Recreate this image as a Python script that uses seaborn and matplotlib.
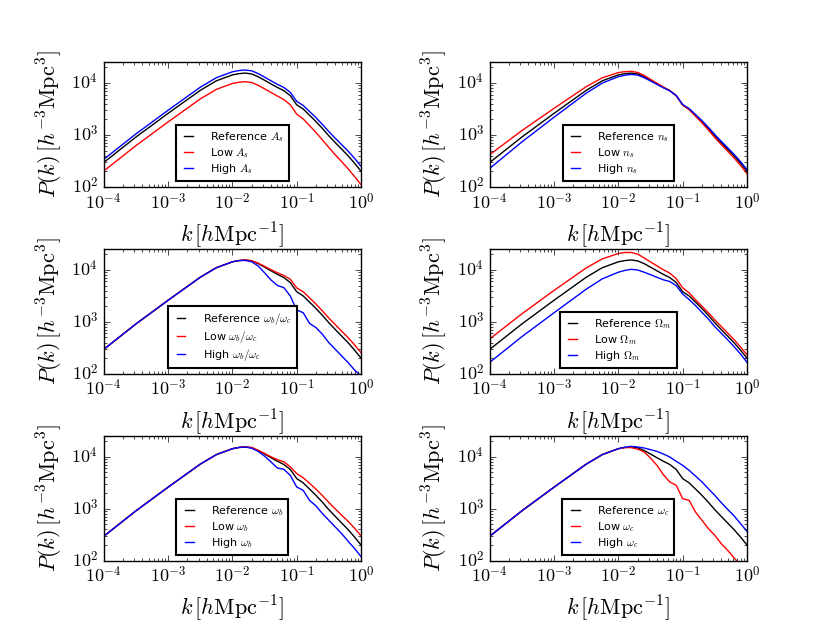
import math
import matplotlib
matplotlib.use("Agg")
import matplotlib.pyplot as plt
import matplotlib.ticker as mticker
import seaborn as sns
import pandas as pd

# wavenumbers k [h/Mpc]
k = [1e-4, 3.16e-4, 1e-3, 3.16e-3, 5.62e-3, 1e-2, 1.26e-2, 1.58e-2, 2e-2, 2.51e-2,
     3.16e-2, 3.98e-2, 5.01e-2, 6.31e-2, 7.94e-2, 0.1, 0.126, 0.158, 0.2, 0.251,
     0.316, 0.398, 0.501, 0.631, 0.794, 1.0]

# reference power spectrum
P_ref = [295, 910, 2600, 7200, 11000, 14300, 15100, 15500, 14900, 13200, 11300, 9600, 8200,
         7100, 5700, 3800, 3150, 2400, 1800, 1330, 960, 710, 530, 395, 285, 200]

# A_s variations
P_As_low = [202, 622, 1778, 4925, 7524, 9781, 10328, 10602, 10192, 9029, 7729, 6566, 5609,
            4800, 3808, 2512, 2035, 1514, 1111, 802, 572, 413, 305, 222, 158, 110]
P_As_high = [339, 1045, 2985, 8266, 12628, 16416, 17335, 17794, 17105, 15154, 12972, 11021, 9414,
             8186, 6606, 4423, 3692, 2832, 2140, 1592, 1157, 861, 648, 486, 353, 249]

# n_s variations
P_ns_low = [417, 1210, 3250, 8482, 12573, 15859, 16519, 16756, 15928, 13952, 11775, 9888, 8356,
            7150, 5660, 3732, 3056, 2302, 1703, 1245, 888, 652, 483, 359, 258, 180]
P_ns_high = [227, 733, 2192, 6358, 9944, 13228, 14088, 14601, 14170, 12659, 10938, 9379, 8085,
             7065, 5729, 3853, 3222, 2479, 1876, 1397, 1015, 754, 566, 422, 306, 215]

# omega_b / omega_c variations
P_fb_low = [295, 910, 2600, 7200, 11000, 14300, 15100, 15600, 15000, 13500, 11700, 10100, 8800,
            7800, 6600, 4500, 3800, 2900, 2180, 1620, 1180, 880, 660, 495, 360, 255]
P_fb_high = [295, 910, 2600, 7200, 11000, 14300, 15100, 15200, 14300, 11900, 8800, 6400, 5000,
             4560, 3140, 1690, 1500, 935, 772, 575, 398, 296, 220, 164, 118, 92]

# Omega_m variations
P_Om_low = [468, 1426, 4027, 10901, 16269, 20664, 21578, 21638, 20100, 17002, 14227, 11952, 10086,
            8634, 6777, 4518, 3616, 2662, 1996, 1492, 1090, 815, 608, 453, 327, 232]
P_Om_high = [166, 518, 1495, 4241, 6710, 9023, 9755, 10246, 9953, 9029, 8091, 7200, 6437,
             5971, 4965, 3428, 2681, 2066, 1514, 1132, 807, 604, 451, 332, 240, 166]

# omega_b variations
P_wb_low = [295, 910, 2600, 7200, 11000, 14300, 15100, 15600, 15100, 13400, 11600, 10000, 8800,
            8000, 6400, 4750, 3950, 3100, 2370, 1790, 1320, 990, 750, 570, 420, 300]
P_wb_high = [295, 910, 2600, 7200, 11000, 14300, 15100, 15400, 14600, 12700, 10300, 7950, 6080,
             5730, 4390, 2620, 2260, 1450, 1130, 804, 598, 445, 331, 236, 171, 120]

# omega_c variations
P_wc_low = [295, 910, 2600, 7200, 11000, 14300, 15000, 15000, 14000, 12400, 9470, 6840, 4520,
            3270, 2820, 1560, 1450, 865, 598, 414, 308, 213, 158, 113, 82, 62]
P_wc_high = [295, 910, 2600, 7200, 11000, 14300, 15300, 15900, 15400, 14760, 13700, 12700, 11300,
             9900, 8170, 6840, 5480, 4270, 3270, 2430, 1810, 1310, 973, 725, 516, 367]

param_names = [r"$A_s$", r"$n_s$", r"$\omega_b/\omega_c$", r"$\Omega_m$", r"$\omega_b$", r"$\omega_c$"]
low_series = [P_As_low, P_ns_low, P_fb_low, P_Om_low, P_wb_low, P_wc_low]
high_series = [P_As_high, P_ns_high, P_fb_high, P_Om_high, P_wb_high, P_wc_high]

plt.style.use("classic")
plt.rcParams.update({
    "figure.facecolor": "white",
    "savefig.facecolor": "white",
    "mathtext.fontset": "cm",
    "font.family": ["DejaVu Sans"],
    "xtick.labelsize": 13,
    "ytick.labelsize": 13,
    "axes.labelsize": 16,
    "lines.linewidth": 1.0,
})


def pow10(v, pos):
    if v <= 0:
        return ""
    return r"$10^{%d}$" % int(round(math.log10(v)))


fig, axes = plt.subplots(3, 2, figsize=(8.3, 6.23), dpi=100)
fig.subplots_adjust(left=0.125, right=0.9, bottom=0.1, top=0.9, wspace=0.5, hspace=0.5)

for ax, name, low, high in zip(axes.flat, param_names, low_series, high_series):
    ax.set_xscale("log")
    ax.set_yscale("log")
    df = pd.DataFrame({"k": k, "ref": P_ref, "low": low, "high": high})
    sns.lineplot(data=df, x="k", y="ref", color="k", linewidth=1.0, ax=ax,
                 label="Reference " + name)
    sns.lineplot(data=df, x="k", y="low", color="r", linewidth=1.0, ax=ax,
                 label="Low " + name)
    sns.lineplot(data=df, x="k", y="high", color="b", linewidth=1.0, ax=ax,
                 label="High " + name)
    ax.set_xlim(1e-4, 1.0)
    ax.set_ylim(1e2, 2.5e4)
    for axis in (ax.xaxis, ax.yaxis):
        axis.set_major_locator(mticker.LogLocator(base=10.0))
        axis.set_major_formatter(mticker.FuncFormatter(pow10))
        axis.set_minor_locator(mticker.LogLocator(base=10.0, subs=range(2, 10)))
        axis.set_minor_formatter(mticker.NullFormatter())
    ax.set_xlabel(r"$k\,[h\mathrm{Mpc}^{-1}]$", fontsize=16)
    ax.set_ylabel(r"$P(k)\,[h^{-3}\mathrm{Mpc}^3]$", fontsize=16)
    ax.tick_params(which="both", direction="in", top=True, right=True)
    leg = ax.legend(loc="lower center", fontsize=8, handlelength=1.4,
                    handletextpad=1.25, borderpad=0.45, labelspacing=0.2,
                    borderaxespad=0.5, frameon=True, fancybox=False)
    leg.get_frame().set_edgecolor("black")
    leg.get_frame().set_linewidth(1.5)

fig.savefig("out.png", dpi=100)
